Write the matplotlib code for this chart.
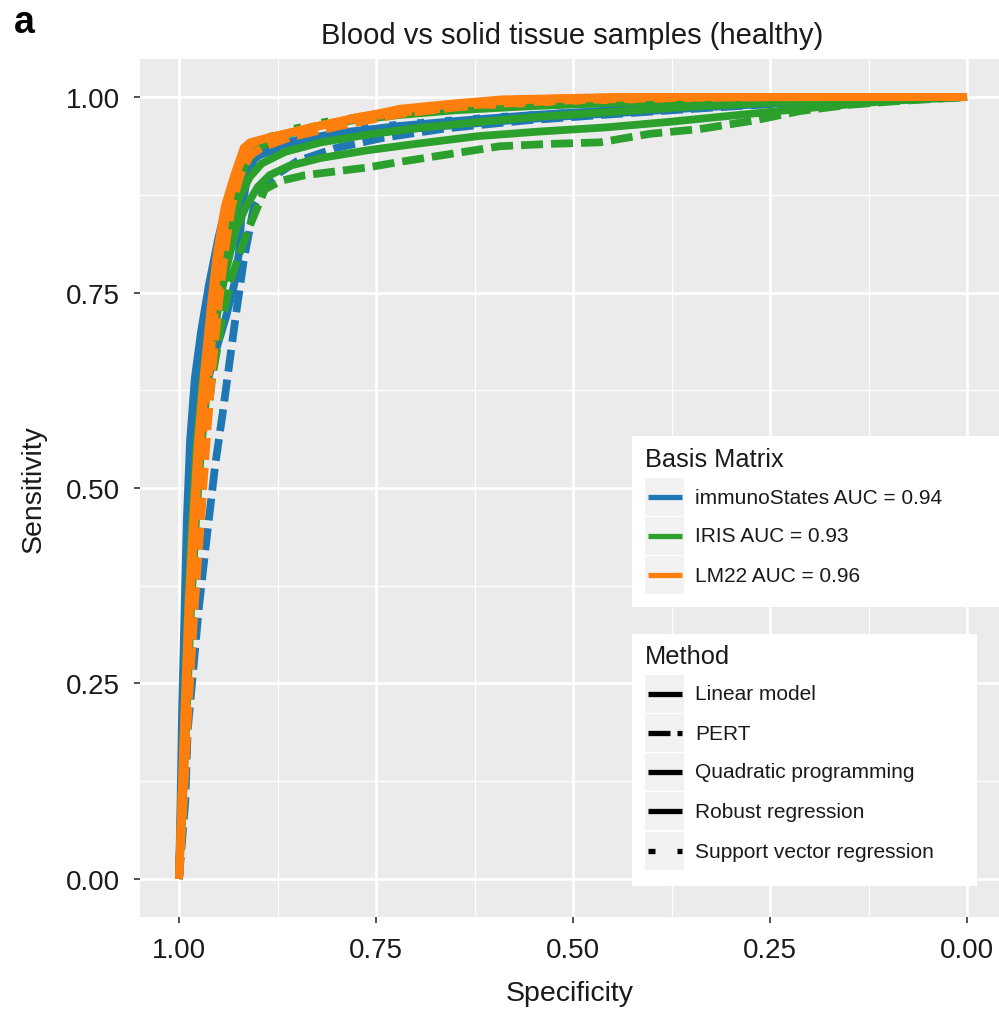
import matplotlib
matplotlib.use("Agg")
import matplotlib.pyplot as plt
from matplotlib.lines import Line2D
from matplotlib.patches import Rectangle

plt.rcParams['font.family'] = ['Liberation Sans', 'DejaVu Sans']
plt.rcParams['lines.scale_dashes'] = False

# ---------------- data ----------------
title = "Blood vs solid tissue samples (healthy)"
x_label = "Specificity"
y_label = "Sensitivity"
tick_values = [1.00, 0.75, 0.50, 0.25, 0.00]
tick_labels = ["1.00", "0.75", "0.50", "0.25", "0.00"]

matrices = ["immunoStates", "IRIS", "LM22"]
matrix_labels = ["immunoStates AUC = 0.94", "IRIS AUC = 0.93", "LM22 AUC = 0.96"]
methods = ["Linear model", "PERT", "Quadratic programming", "Robust regression",
           "Support vector regression"]

# immunoStates curves (specificity, sensitivity)
imm_lin_spec = [1.000, 0.996, 0.992, 0.988, 0.984, 0.978, 0.968, 0.955, 0.940, 0.930, 0.924, 0.920, 0.912, 0.902, 0.870, 0.830, 0.780, 0.720, 0.650, 0.580, 0.500, 0.420, 0.330, 0.220, 0.120, 0.000]
imm_lin_sens = [0.000, 0.100, 0.220, 0.350, 0.460, 0.560, 0.620, 0.670, 0.720, 0.760, 0.800, 0.860, 0.905, 0.925, 0.935, 0.943, 0.950, 0.958, 0.964, 0.970, 0.976, 0.981, 0.987, 0.993, 0.997, 1.000]
imm_pert_spec = [1.000, 0.992, 0.989, 0.983, 0.975, 0.965, 0.954, 0.944, 0.936, 0.928, 0.918, 0.905, 0.885, 0.850, 0.800, 0.740, 0.660, 0.560, 0.450, 0.330, 0.200, 0.080, 0.000]
imm_pert_sens = [0.000, 0.100, 0.190, 0.256, 0.345, 0.435, 0.530, 0.600, 0.660, 0.720, 0.790, 0.860, 0.895, 0.918, 0.935, 0.948, 0.960, 0.970, 0.978, 0.986, 0.994, 0.998, 1.000]
imm_qp_spec = [1.000, 0.998, 0.996, 0.993, 0.990, 0.986, 0.980, 0.972, 0.962, 0.950, 0.938, 0.925, 0.910, 0.890, 0.850, 0.790, 0.720, 0.640, 0.550, 0.450, 0.340, 0.220, 0.100, 0.000]
imm_qp_sens = [0.000, 0.100, 0.220, 0.340, 0.460, 0.560, 0.640, 0.700, 0.760, 0.820, 0.870, 0.905, 0.925, 0.935, 0.945, 0.955, 0.963, 0.970, 0.977, 0.983, 0.989, 0.994, 0.998, 1.000]
imm_rob_spec = [1.000, 0.997, 0.994, 0.990, 0.986, 0.981, 0.974, 0.964, 0.952, 0.940, 0.930, 0.918, 0.906, 0.880, 0.840, 0.780, 0.700, 0.620, 0.530, 0.430, 0.320, 0.200, 0.090, 0.000]
imm_rob_sens = [0.000, 0.100, 0.220, 0.340, 0.450, 0.550, 0.630, 0.700, 0.760, 0.820, 0.870, 0.905, 0.922, 0.933, 0.944, 0.954, 0.962, 0.970, 0.977, 0.983, 0.990, 0.995, 0.998, 1.000]
imm_svr_spec = [1.000, 0.996, 0.991, 0.986, 0.980, 0.973, 0.965, 0.955, 0.944, 0.932, 0.918, 0.900, 0.870, 0.820, 0.750, 0.680, 0.600, 0.500, 0.400, 0.280, 0.150, 0.000]
imm_svr_sens = [0.000, 0.100, 0.220, 0.340, 0.450, 0.550, 0.640, 0.720, 0.790, 0.850, 0.895, 0.925, 0.940, 0.952, 0.962, 0.968, 0.974, 0.980, 0.986, 0.992, 0.997, 1.000]

# IRIS curves
iris_lin_spec = [1.000, 0.995, 0.990, 0.985, 0.979, 0.972, 0.963, 0.952, 0.940, 0.928, 0.915, 0.900, 0.885, 0.860, 0.820, 0.760, 0.700, 0.620, 0.540, 0.460, 0.380, 0.300, 0.200, 0.100, 0.000]
iris_lin_sens = [0.000, 0.100, 0.220, 0.340, 0.450, 0.550, 0.640, 0.720, 0.780, 0.830, 0.860, 0.885, 0.900, 0.912, 0.922, 0.932, 0.940, 0.950, 0.956, 0.961, 0.968, 0.976, 0.986, 0.995, 1.000]
iris_pert_spec = [1.000, 0.994, 0.989, 0.983, 0.976, 0.968, 0.958, 0.946, 0.934, 0.923, 0.912, 0.900, 0.891, 0.870, 0.840, 0.808, 0.760, 0.720, 0.650, 0.593, 0.530, 0.466, 0.402, 0.339, 0.270, 0.212, 0.150, 0.085, 0.000]
iris_pert_sens = [0.000, 0.100, 0.220, 0.340, 0.450, 0.550, 0.640, 0.710, 0.767, 0.800, 0.831, 0.860, 0.882, 0.893, 0.900, 0.904, 0.910, 0.917, 0.928, 0.937, 0.940, 0.942, 0.953, 0.959, 0.970, 0.982, 0.990, 0.995, 1.000]
iris_qp_spec = [1.000, 0.997, 0.993, 0.989, 0.984, 0.978, 0.970, 0.960, 0.950, 0.940, 0.928, 0.915, 0.900, 0.870, 0.830, 0.780, 0.720, 0.650, 0.560, 0.460, 0.360, 0.250, 0.120, 0.000]
iris_qp_sens = [0.000, 0.100, 0.220, 0.340, 0.450, 0.550, 0.640, 0.710, 0.770, 0.830, 0.880, 0.915, 0.935, 0.950, 0.962, 0.970, 0.977, 0.983, 0.988, 0.992, 0.995, 0.998, 1.000, 1.000]
iris_rob_spec = [1.000, 0.996, 0.992, 0.987, 0.982, 0.976, 0.968, 0.958, 0.947, 0.936, 0.924, 0.910, 0.895, 0.865, 0.820, 0.760, 0.700, 0.620, 0.540, 0.450, 0.360, 0.260, 0.150, 0.000]
iris_rob_sens = [0.000, 0.100, 0.220, 0.340, 0.450, 0.550, 0.640, 0.715, 0.775, 0.830, 0.870, 0.898, 0.915, 0.930, 0.942, 0.952, 0.960, 0.968, 0.975, 0.981, 0.987, 0.992, 0.997, 1.000]
iris_svr_spec = [1.000, 0.996, 0.991, 0.985, 0.979, 0.972, 0.964, 0.955, 0.946, 0.936, 0.925, 0.912, 0.895, 0.860, 0.815, 0.760, 0.700, 0.620, 0.520, 0.420, 0.300, 0.180, 0.000]
iris_svr_sens = [0.000, 0.100, 0.220, 0.340, 0.450, 0.550, 0.640, 0.720, 0.790, 0.850, 0.895, 0.925, 0.945, 0.958, 0.968, 0.976, 0.981, 0.986, 0.990, 0.994, 0.997, 0.999, 1.000]

# LM22 curves
lm_lin_spec = [1.000, 0.997, 0.993, 0.988, 0.982, 0.976, 0.968, 0.960, 0.952, 0.942, 0.930, 0.918, 0.910, 0.880, 0.846, 0.780, 0.720, 0.650, 0.590, 0.450, 0.250, 0.000]
lm_lin_sens = [0.000, 0.100, 0.220, 0.350, 0.460, 0.560, 0.650, 0.730, 0.800, 0.860, 0.900, 0.935, 0.942, 0.950, 0.957, 0.972, 0.985, 0.992, 0.997, 1.000, 1.000, 1.000]
lm_pert_spec = [1.000, 0.994, 0.988, 0.980, 0.972, 0.965, 0.958, 0.950, 0.942, 0.933, 0.922, 0.910, 0.895, 0.860, 0.800, 0.720, 0.620, 0.500, 0.350, 0.150, 0.000]
lm_pert_sens = [0.000, 0.100, 0.220, 0.350, 0.460, 0.560, 0.650, 0.730, 0.800, 0.860, 0.900, 0.925, 0.935, 0.948, 0.962, 0.978, 0.990, 0.996, 0.999, 1.000, 1.000]
lm_qp_spec = [1.000, 0.996, 0.991, 0.986, 0.980, 0.973, 0.965, 0.957, 0.948, 0.938, 0.926, 0.914, 0.900, 0.870, 0.830, 0.770, 0.700, 0.620, 0.540, 0.400, 0.200, 0.000]
lm_qp_sens = [0.000, 0.100, 0.220, 0.350, 0.460, 0.560, 0.650, 0.730, 0.800, 0.860, 0.905, 0.935, 0.944, 0.952, 0.962, 0.975, 0.986, 0.993, 0.997, 1.000, 1.000, 1.000]
lm_rob_spec = [1.000, 0.997, 0.992, 0.987, 0.981, 0.974, 0.966, 0.958, 0.949, 0.940, 0.928, 0.916, 0.905, 0.875, 0.835, 0.775, 0.710, 0.640, 0.560, 0.420, 0.220, 0.000]
lm_rob_sens = [0.000, 0.100, 0.220, 0.350, 0.460, 0.560, 0.650, 0.730, 0.800, 0.860, 0.902, 0.933, 0.943, 0.951, 0.960, 0.974, 0.985, 0.992, 0.997, 1.000, 1.000, 1.000]
lm_svr_spec = [1.000, 0.995, 0.990, 0.984, 0.977, 0.970, 0.962, 0.954, 0.945, 0.935, 0.924, 0.912, 0.898, 0.860, 0.800, 0.720, 0.620, 0.500, 0.380, 0.250, 0.120, 0.000]
lm_svr_sens = [0.000, 0.100, 0.220, 0.350, 0.460, 0.560, 0.650, 0.730, 0.800, 0.860, 0.900, 0.930, 0.942, 0.955, 0.968, 0.980, 0.989, 0.995, 0.998, 1.000, 1.000, 1.000]

curves = {
    "immunoStates": [(imm_lin_spec, imm_lin_sens), (imm_pert_spec, imm_pert_sens),
                     (imm_qp_spec, imm_qp_sens), (imm_rob_spec, imm_rob_sens),
                     (imm_svr_spec, imm_svr_sens)],
    "IRIS": [(iris_lin_spec, iris_lin_sens), (iris_pert_spec, iris_pert_sens),
             (iris_qp_spec, iris_qp_sens), (iris_rob_spec, iris_rob_sens),
             (iris_svr_spec, iris_svr_sens)],
    "LM22": [(lm_lin_spec, lm_lin_sens), (lm_pert_spec, lm_pert_sens),
             (lm_qp_spec, lm_qp_sens), (lm_rob_spec, lm_rob_sens),
             (lm_svr_spec, lm_svr_sens)],
}

# ---------------- styles ----------------
colors = {"immunoStates": "#1F77B4", "IRIS": "#2CA02C", "LM22": "#FF7F0E"}
px = 72.0 / 100.0  # points per pixel at dpi 100
method_dashes = [None, (22 * px, 8 * px), None, None, (7 * px, 21 * px)]
key_dashes = [None, (22 * px, 7 * px), None, None, (7 * px, 22 * px)]

W, H = 999, 1012
fig = plt.figure(figsize=(W / 100, H / 100), dpi=100)
fig.patch.set_facecolor("white")

def fx(p):
    return p / W

def fy(p):
    return 1 - p / H

ax = fig.add_axes([fx(140), fy(918), (999 - 140) / W, (918 - 60) / H])
ax.set_facecolor("#EBEBEB")
for s in ax.spines.values():
    s.set_visible(False)

ax.set_xlim(1.0495, -0.0406)
ax.set_ylim(-0.0486, 1.0486)
ax.set_xticks(tick_values)
ax.set_xticklabels(tick_labels)
ax.set_yticks(tick_values)
ax.set_yticklabels(tick_labels)
minor = [0.875, 0.625, 0.375, 0.125]
ax.set_xticks(minor, minor=True)
ax.set_yticks(minor, minor=True)
ax.grid(which="major", color="white", linewidth=1.9)
ax.grid(which="minor", color="white", linewidth=0.9)
ax.set_axisbelow(True)
ax.tick_params(which="major", length=4.0, width=1.2, color="#333333",
               pad=10.5, labelsize=20, labelcolor="#1a1a1a")
ax.tick_params(which="minor", length=0)

for m in matrices:
    for (spec, sens), d in zip(curves[m], method_dashes):
        ln, = ax.plot(spec, sens, color=colors[m], linewidth=5.6,
                      solid_capstyle="butt", dash_capstyle="butt",
                      solid_joinstyle="miter")
        if d is not None:
            ln.set_dashes(d)

ax.set_xlabel(x_label, fontsize=20.5, labelpad=12, color="#1a1a1a")
ax.set_ylabel(y_label, fontsize=20.5, labelpad=14, color="#1a1a1a")

fig.text(fx(572.5), fy(36), title, ha="center", va="center", fontsize=21,
         color="#1a1a1a")
fig.text(fx(14), fy(33), "a", ha="left", va="baseline", fontsize=27,
         fontweight="bold", color="black")

# ---------------- legends (drawn as figure artists) ----------------
def legend_block(top, bottom, right, title_text, title_y, rows_y, labels,
                 key_colors, dashes):
    fig.add_artist(Rectangle((fx(632), fy(bottom)), (right - 632) / W,
                             (bottom - top) / H, transform=fig.transFigure,
                             facecolor="white", edgecolor="none", zorder=5,
                             clip_on=False))
    fig.text(fx(645), fy(title_y), title_text, ha="left", va="center",
             fontsize=18.3, color="#1a1a1a", zorder=6)
    for yy, lab, c, d in zip(rows_y, labels, key_colors, dashes):
        fig.add_artist(Rectangle((fx(645), fy(yy + 19)), 39 / W, 38 / H,
                                 transform=fig.transFigure,
                                 facecolor="#F2F2F2", edgecolor="none",
                                 zorder=6))
        ln = Line2D([fx(648), fx(682)], [fy(yy), fy(yy)],
                    transform=fig.transFigure, color=c, linewidth=3.8,
                    solid_capstyle="butt", dash_capstyle="butt", zorder=7)
        if d is not None:
            ln.set_dashes(d)
        fig.add_artist(ln)
        fig.text(fx(695), fy(yy), lab, ha="left", va="center",
                 fontsize=15, color="#1a1a1a", zorder=7)

legend_block(437, 608, 1010, "Basis Matrix", 460, [498, 537, 576],
             matrix_labels, [colors[m] for m in matrices], [None] * 3)
legend_block(635, 887, 977, "Method", 657, [695, 734, 773, 812, 852],
             methods, ["black"] * 5, key_dashes)

fig.savefig("out.png", dpi=100, facecolor="white")
